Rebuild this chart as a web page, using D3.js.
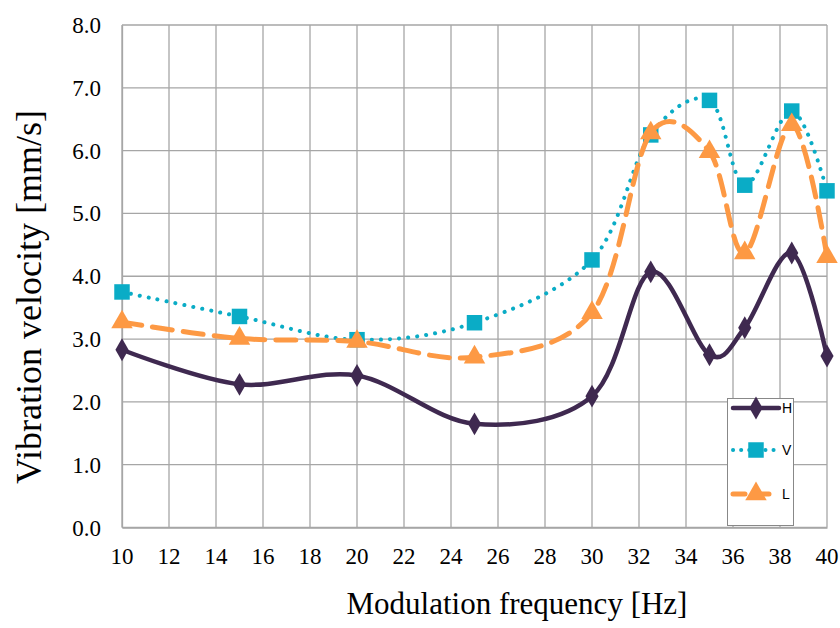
<!DOCTYPE html>
<html>
<head>
<meta charset="utf-8">
<script src="https://cdn.jsdelivr.net/npm/d3@7"></script>
<style>
  html, body { margin: 0; padding: 0; background: #fff; }
  svg { display: block; }
  .serif { font-family: "Liberation Serif", "Times New Roman", serif; }
</style>
</head>
<body>
<svg id="chart" width="840" height="628"></svg>
<script>
// Measured vibration velocity per modulation frequency, three directions
const freqs = [10, 15, 20, 25, 30, 32.5, 35, 36.5, 38.5, 40];
const seriesH = [2.83, 2.28, 2.42, 1.65, 2.09, 4.07, 2.75, 3.18, 4.37, 2.73];
const seriesV = [3.75, 3.36, 2.99, 3.26, 4.26, 6.25, 6.80, 5.45, 6.63, 5.36];
const seriesL = [3.27, 3.01, 2.96, 2.71, 3.42, 6.28, 5.98, 4.37, 6.41, 4.31];
const seriesNames = ["H", "V", "L"];
const xTicks = [10, 12, 14, 16, 18, 20, 22, 24, 26, 28, 30, 32, 34, 36, 38, 40];
const yTicks = [0, 1, 2, 3, 4, 5, 6, 7, 8];

const svg = d3.select("#chart");
const plotLeft = 122, plotRight = 827, plotTop = 25, plotBottom = 527.5;

const x = d3.scaleLinear().domain([10, 40]).range([plotLeft, plotRight]);
const y = d3.scaleLinear().domain([0, 8]).range([plotBottom, plotTop]);

const gridColor = "#a6a6a6";

// Grid
const grid = svg.append("g");
grid.selectAll("line.v").data(xTicks).join("line")
  .attr("x1", d => x(d)).attr("x2", d => x(d))
  .attr("y1", plotTop).attr("y2", plotBottom)
  .attr("stroke", gridColor).attr("stroke-width", 1.3);
grid.selectAll("line.h").data(yTicks).join("line")
  .attr("x1", plotLeft).attr("x2", plotRight)
  .attr("y1", d => y(d)).attr("y2", d => y(d))
  .attr("stroke", gridColor).attr("stroke-width", 1.3);

// Axis lines (no tick marks), then serif tick labels placed from the scales
const xAxis = d3.axisBottom(x).tickValues(xTicks).tickSize(0).tickFormat("");
const yAxis = d3.axisLeft(y).tickValues(yTicks).tickSize(0).tickFormat("");
svg.append("g").attr("transform", `translate(0,${plotBottom})`).call(xAxis)
  .select(".domain").attr("stroke", gridColor).attr("stroke-width", 1.3);
svg.append("g").attr("transform", `translate(${plotLeft},0)`).call(yAxis)
  .select(".domain").attr("stroke", gridColor).attr("stroke-width", 1.3);

const fmtX = d3.format("d"), fmtY = d3.format(".1f");
svg.append("g").selectAll("text").data(xTicks).join("text")
  .attr("class", "serif")
  .attr("x", d => x(d)).attr("y", 564)
  .attr("text-anchor", "middle")
  .attr("font-size", 23).attr("fill", "#000")
  .text(fmtX);
svg.append("g").selectAll("text").data(yTicks).join("text")
  .attr("class", "serif")
  .attr("x", 101).attr("y", d => y(d) + 8)
  .attr("text-anchor", "end")
  .attr("font-size", 23).attr("fill", "#000")
  .text(fmtY);

// Axis titles
svg.append("text")
  .attr("class", "serif")
  .attr("x", 517).attr("y", 614)
  .attr("text-anchor", "middle")
  .attr("font-size", 31).attr("fill", "#000")
  .text("Modulation frequency [Hz]");
svg.append("text")
  .attr("class", "serif")
  .attr("transform", "translate(41,297) rotate(-90)")
  .attr("text-anchor", "middle")
  .attr("font-size", 36).attr("fill", "#000")
  .text("Vibration velocity [mm/s]");

// Series styling
const styles = {
  H: { color: "#3f2950", width: 4.5, dash: null, marker: d3.symbolDiamond, msize: 150 },
  V: { color: "#0aacc6", width: 4, dash: "0.1 9", marker: d3.symbolSquare, msize: 240 },
  L: { color: "#fd9944", width: 5, dash: "20 11", marker: d3.symbolTriangle, msize: 200 }
};
const dataBy = { H: seriesH, V: seriesV, L: seriesL };

const line = d3.line()
  .x(d => x(d[0])).y(d => y(d[1]))
  .curve(d3.curveCardinal.tension(0));

const plot = svg.append("g");
// solid H line drawn last so it sits on top
["V", "L", "H"].forEach(name => {
  const s = styles[name];
  const pts = freqs.map((f, i) => [f, dataBy[name][i]]);
  plot.append("path")
    .attr("d", line(pts))
    .attr("fill", "none")
    .attr("stroke", s.color)
    .attr("stroke-width", s.width)
    .attr("stroke-linecap", "round")
    .attr("stroke-linejoin", "round")
    .attr("stroke-dasharray", s.dash);
  const sym = d3.symbol().type(s.marker).size(s.msize);
  plot.selectAll(null).data(pts).join("path")
    .attr("transform", d => `translate(${x(d[0])},${y(d[1])})`)
    .attr("d", sym())
    .attr("fill", s.color);
});

// Legend
const lg = svg.append("g");
lg.append("rect")
  .attr("x", 727.5).attr("y", 398.5).attr("width", 66).attr("height", 127)
  .attr("fill", "#fff").attr("stroke", "#888").attr("stroke-width", 1);
const legendY = { H: 408, V: 450, L: 494 };
const legendDash = { H: null, V: "0.1 8", L: "12 12" };
seriesNames.forEach(name => {
  const s = styles[name];
  const ly = legendY[name];
  lg.append("line")
    .attr("x1", 733).attr("x2", 779).attr("y1", ly).attr("y2", ly)
    .attr("stroke", s.color).attr("stroke-width", s.width)
    .attr("stroke-linecap", "round")
    .attr("stroke-dasharray", legendDash[name]);
  lg.append("path")
    .attr("transform", `translate(756,${ly})`)
    .attr("d", d3.symbol().type(s.marker).size(s.msize)())
    .attr("fill", s.color);
  lg.append("text")
    .attr("x", 782).attr("y", ly + 5)
    .attr("font-family", "'Liberation Sans', Arial, sans-serif")
    .attr("font-size", 14).attr("fill", "#000")
    .text(name);
});
</script>
</body>
</html>
